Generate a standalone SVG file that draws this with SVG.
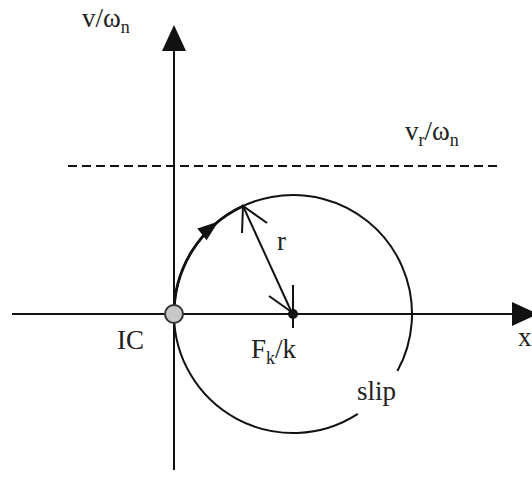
<svg xmlns="http://www.w3.org/2000/svg" width="532" height="477" viewBox="0 0 532 477">
<style>
.ln{stroke:#111;stroke-width:2;fill:none}
.ah{fill:#111;stroke:none}
.t{font-family:"Liberation Serif","Times New Roman",serif;font-size:27px;fill:#222}
.sub{font-size:18px}
</style>
<rect width="532" height="477" fill="#fff"/>
<g id="axes">
<line class="ln" x1="174" y1="48" x2="174" y2="470"/>
<polygon class="ah" points="174,25 162,51 186,51"/>
<line class="ln" x1="12" y1="314" x2="515" y2="314"/>
<polygon class="ah" points="538,314 512,302 512,326"/>
</g>
<g id="limit">
<line class="ln" x1="68" y1="166" x2="497" y2="166" stroke-dasharray="9 5"/>
</g>
<g id="connectors">
<path class="ln" d="M174,314 A119,119 0 1 1 397.4,371.1"/>
<path class="ln" d="M357.8,413.8 A119,119 0 0 1 174,314"/>
<path class="ln" style="stroke-width:2.8" d="M174,314 A119,119 0 0 1 242.7,206.2"/>
<polygon class="ah" points="0,0 -21,-7.5 -21,7.5" transform="translate(218.5,221.5) rotate(-38)"/>
<line class="ln" x1="243" y1="206" x2="292" y2="313"/>
<polyline class="ln" points="242,233 243,206 267,223"/>
<polyline class="ln" points="269,296 293,313"/>
<line class="ln" x1="293" y1="285" x2="293" y2="328"/>
</g>
<g id="IC">
<circle cx="174" cy="314" r="9" fill="#c8c8c8" stroke="#333" stroke-width="2"/>
<text class="t" x="117" y="349">IC</text>
</g>
<g id="center">
<circle cx="293" cy="314" r="5" fill="#111"/>
<text class="t" x="251" y="358">F<tspan class="sub" dy="6">k</tspan><tspan dy="-6">/k</tspan></text>
</g>
<g id="labels">
<text class="t" x="82" y="27">v/ω<tspan class="sub" dy="6">n</tspan></text>
<text class="t" x="405" y="140">v<tspan class="sub" dy="6">r</tspan><tspan dy="-6">/ω</tspan><tspan class="sub" dy="6">n</tspan></text>
<text class="t" x="277" y="250">r</text>
<text class="t" x="357" y="400">slip</text>
<text class="t" x="518" y="346">x</text>
</g>
</svg>
